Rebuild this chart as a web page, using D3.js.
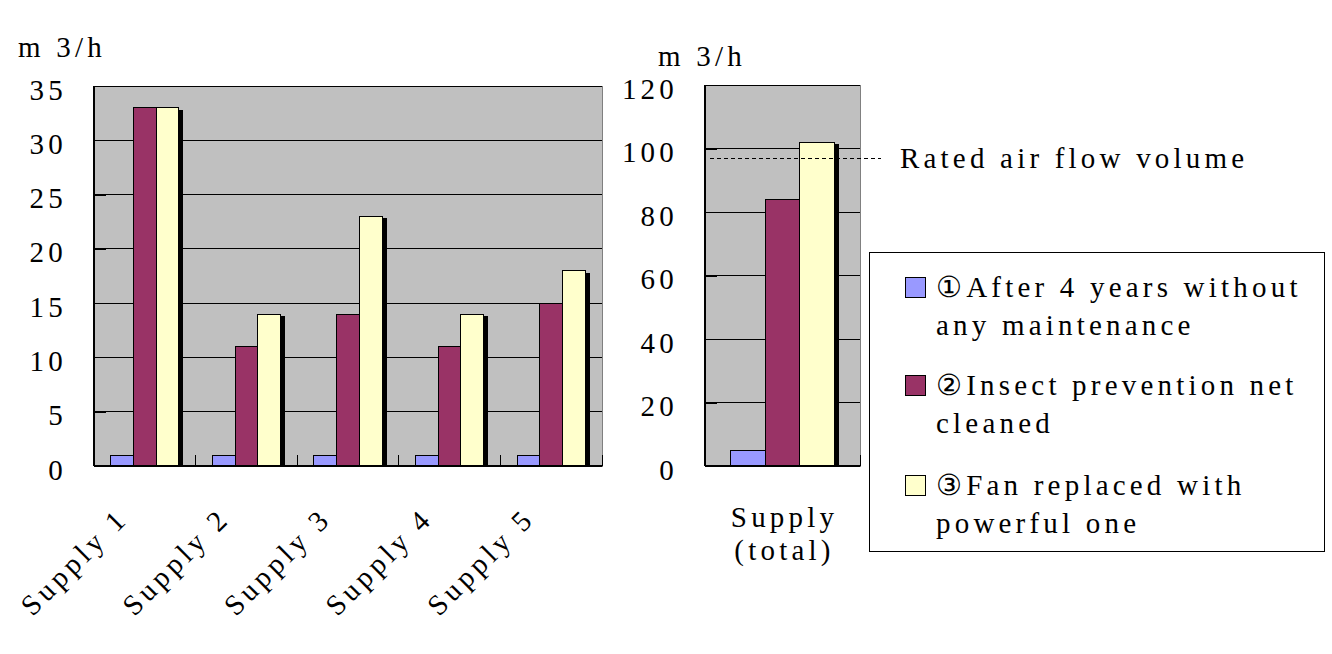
<!DOCTYPE html>
<html lang="en">
<head>
<meta charset="UTF-8">
<title>Supply air flow</title>
<script src="https://d3js.org/d3.v7.min.js"></script>
<style>
  body { margin: 0; background: #fff; }
</style>
</head>
<body>
<div id="chart"></div>
<script>
// data
const categories = ['Supply 1', 'Supply 2', 'Supply 3', 'Supply 4', 'Supply 5'];
const legendLines = [
  ['①After 4 years without', 'any maintenance'],
  ['②Insect prevention net', 'cleaned'],
  ['③Fan replaced with', 'powerful one']
];
const noMaintenance = [1, 1, 1, 1, 1];
const netCleaned = [33, 11, 14, 11, 15];
const fanReplaced = [33, 14, 23, 14, 18];

const totalCategory = ['Supply (total)'];
const totalLabelLines = ['Supply', '(total)'];
const totalNoMaintenance = [5];
const totalNetCleaned = [84];
const totalFanReplaced = [102];
const ratedAirflow = 97;

const leftTicks = [0, 5, 10, 15, 20, 25, 30, 35];
const rightTicks = [0, 20, 40, 60, 80, 100, 120];
const unitLabel = 'm 3/h';
const ratedLabel = 'Rated air flow volume';

const colors = ['#9999ff', '#993366', '#ffffcc'];
const FONT = 'Liberation Serif';

const svg = d3.select('#chart').append('svg')
  .attr('width', 1332)
  .attr('height', 654);

function label(sel) {
  return sel.attr('font-family', FONT).attr('font-size', 29).attr('letter-spacing', '4.2px').attr('fill', '#000');
}

function drawPanel(opts) {
  const { left, right, top, bottom, cats, values, ticks, max } = opts;
  const g = svg.append('g').attr('shape-rendering', 'crispEdges');

  const y = d3.scaleLinear().domain([0, max]).range([bottom, top]);
  const x0 = d3.scaleBand().domain(cats).range([left, right]).padding(0);
  const x1 = d3.scaleBand().domain(d3.range(values.length))
    .range([0, x0.bandwidth()]).paddingInner(0).paddingOuter(0.73);

  // plot area
  g.append('rect')
    .attr('x', left).attr('y', top)
    .attr('width', right - left).attr('height', bottom - top)
    .attr('fill', '#c0c0c0').attr('stroke', '#808080').attr('stroke-width', 1);

  // gridlines
  g.selectAll('.grid').data(ticks.filter(t => t > 0)).join('line')
    .attr('x1', left).attr('x2', right)
    .attr('y1', d => y(d)).attr('y2', d => y(d))
    .attr('stroke', '#000').attr('stroke-width', 1);

  // bars with drop shadow
  cats.forEach((c, ci) => {
    values.forEach((vals, si) => {
      const bx = x0(c) + x1(si);
      const bw = x1.bandwidth();
      g.append('rect')
        .attr('x', bx + 4.5).attr('y', y(vals[ci]) + 2)
        .attr('width', bw).attr('height', Math.max(0, bottom - y(vals[ci]) - 2))
        .attr('fill', '#000');
      g.append('rect')
        .attr('x', bx).attr('y', y(vals[ci]))
        .attr('width', bw).attr('height', bottom - y(vals[ci]))
        .attr('fill', colors[si]).attr('stroke', '#000').attr('stroke-width', 1);
    });
  });

  // y axis
  const ax = g.append('g')
    .attr('transform', `translate(${left},0)`)
    .call(d3.axisLeft(y).tickValues(ticks).tickSize(-12).tickPadding(27).tickFormat(d3.format('d')));
  ax.select('.domain').remove();
  ax.selectAll('line').attr('stroke', '#000');
  ax.selectAll('text').attr('dy', '0.45em').call(label);
  g.append('line')
    .attr('x1', left).attr('x2', left).attr('y1', top).attr('y2', bottom)
    .attr('stroke', '#000').attr('stroke-width', 2);

  // x axis baseline and category ticks
  g.append('line')
    .attr('x1', left).attr('x2', right).attr('y1', bottom).attr('y2', bottom)
    .attr('stroke', '#000').attr('stroke-width', 2);
  const edges = cats.map(c => x0(c)).concat([x0(cats[cats.length - 1]) + x0.bandwidth()]);
  g.selectAll('.ctick').data(edges).join('line')
    .attr('x1', d => d).attr('x2', d => d)
    .attr('y1', bottom).attr('y2', bottom - 11)
    .attr('stroke', '#000').attr('stroke-width', 1);

  return { g, x0, y };
}

// left panel
const leftPanel = drawPanel({
  left: 94, right: 602, top: 86, bottom: 466,
  cats: categories,
  values: [noMaintenance, netCleaned, fanReplaced],
  ticks: leftTicks, max: 35
});

svg.append('g').selectAll('text').data(categories).join('text')
  .attr('text-anchor', 'end')
  .attr('transform', d => `translate(${leftPanel.x0(d) + leftPanel.x0.bandwidth() / 2 - 15},520) rotate(-45)`)
  .call(label)
  .text(d => d);

svg.append('text').attr('x', 18).attr('y', 57).call(label).text(unitLabel);

// right panel
const rightPanel = drawPanel({
  left: 705, right: 860, top: 85, bottom: 466,
  cats: totalCategory,
  values: [totalNoMaintenance, totalNetCleaned, totalFanReplaced],
  ticks: rightTicks, max: 120
});

const tl = svg.append('text')
  .attr('text-anchor', 'middle')
  .call(label);
totalLabelLines.forEach((t, i) => {
  tl.append('tspan')
    .attr('x', rightPanel.x0(totalCategory[0]) + rightPanel.x0.bandwidth() / 2 + 2)
    .attr('y', 527 + i * 33)
    .text(t);
});

svg.append('text').attr('x', 658).attr('y', 66).call(label).text(unitLabel);

// rated airflow reference
svg.append('line')
  .attr('shape-rendering', 'crispEdges')
  .attr('x1', 710).attr('x2', 881)
  .attr('y1', rightPanel.y(ratedAirflow)).attr('y2', rightPanel.y(ratedAirflow))
  .attr('stroke', '#000').attr('stroke-width', 1).attr('stroke-dasharray', '4,3');
svg.append('text').attr('x', 900).attr('y', rightPanel.y(ratedAirflow) + 10).call(label).text(ratedLabel);

// legend
const legend = svg.append('g');
legend.append('rect')
  .attr('shape-rendering', 'crispEdges')
  .attr('x', 869).attr('y', 252).attr('width', 455).attr('height', 299)
  .attr('fill', '#fff').attr('stroke', '#000').attr('stroke-width', 1);
const rowY = [297, 395, 495];
legendLines.forEach((lines, i) => {
  legend.append('rect')
    .attr('shape-rendering', 'crispEdges')
    .attr('x', 905).attr('y', rowY[i] - 20).attr('width', 20).attr('height', 20)
    .attr('fill', colors[i]).attr('stroke', '#000').attr('stroke-width', 1);
  lines.forEach((t, j) => {
    legend.append('text')
      .attr('x', 936).attr('y', rowY[i] + j * 38)
      .call(label)
      .text(t);
  });
});
</script>
</body>
</html>
